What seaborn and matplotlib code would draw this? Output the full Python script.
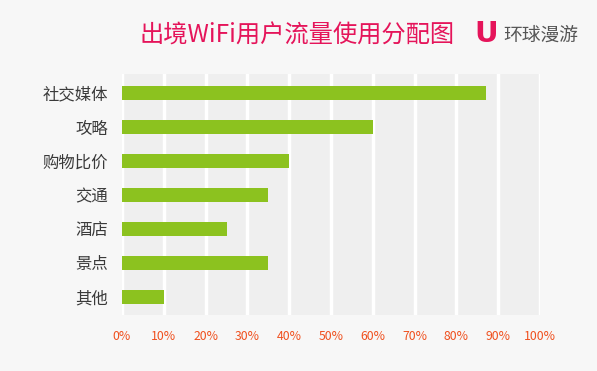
import matplotlib
matplotlib.use("Agg")
import matplotlib.pyplot as plt
import seaborn as sns
import pandas as pd

categories = ["社交媒体", "攻略", "购物比价", "交通", "酒店", "景点", "其他"]
values = [87, 60, 40, 35, 25, 35, 10]
xticks = [0, 10, 20, 30, 40, 50, 60, 70, 80, 90, 100]
xtick_labels = [f"{t}%" for t in xticks]
title = "出境WiFi用户流量使用分配图"
brand = "环球漫游"

sns.set_theme(style="white")
plt.rcParams['font.family'] = ['Noto Sans CJK SC', 'DejaVu Sans']

W, H = 597, 371
fig = plt.figure(figsize=(W / 100, H / 100), dpi=100)
fig.patch.set_facecolor("#f7f7f7")

left, right, top, bottom = 122, 540, 74, 315
ax = fig.add_axes([left / W, 1 - bottom / H, (right - left) / W, (bottom - top) / H])
ax.set_facecolor("#efefef")

df = pd.DataFrame({"cat": categories, "val": values})
sns.barplot(data=df, x="val", y="cat", orient="h", color="#8cc21f",
            saturation=1, width=0.41, ax=ax, zorder=3, linewidth=0)

ax.set_xlim(0, 100)
ax.set_ylim(6.53, -0.56)
ax.set_xticks(xticks)
ax.set_xticklabels(xtick_labels, color="#f0501e", fontsize=8.8)
ax.tick_params(axis="x", length=0, pad=11)
ax.tick_params(axis="y", length=0, pad=10)
for lbl in ax.get_yticklabels():
    lbl.set_fontsize(11.8)
    lbl.set_color("#3a3a3a")
ax.set_xlabel("")
ax.set_ylabel("")
for s in ax.spines.values():
    s.set_visible(False)
ax.grid(False)
for t in xticks:
    ax.axvline(t, color="white", lw=2.5, zorder=1)

fig.text(297 / W, 1 - 36 / H, title, color="#e5145a", fontsize=17.5,
         ha="center", va="center")
fig.text(486 / W, 1 - 34 / H, "U", color="#e5145a", fontsize=21,
         fontweight="heavy", family="DejaVu Sans", ha="center", va="center")
fig.text(503 / W, 1 - 35 / H, brand, color="#555555", fontsize=13.5,
         ha="left", va="center")

fig.savefig("out.png", dpi=100, facecolor=fig.get_facecolor())
